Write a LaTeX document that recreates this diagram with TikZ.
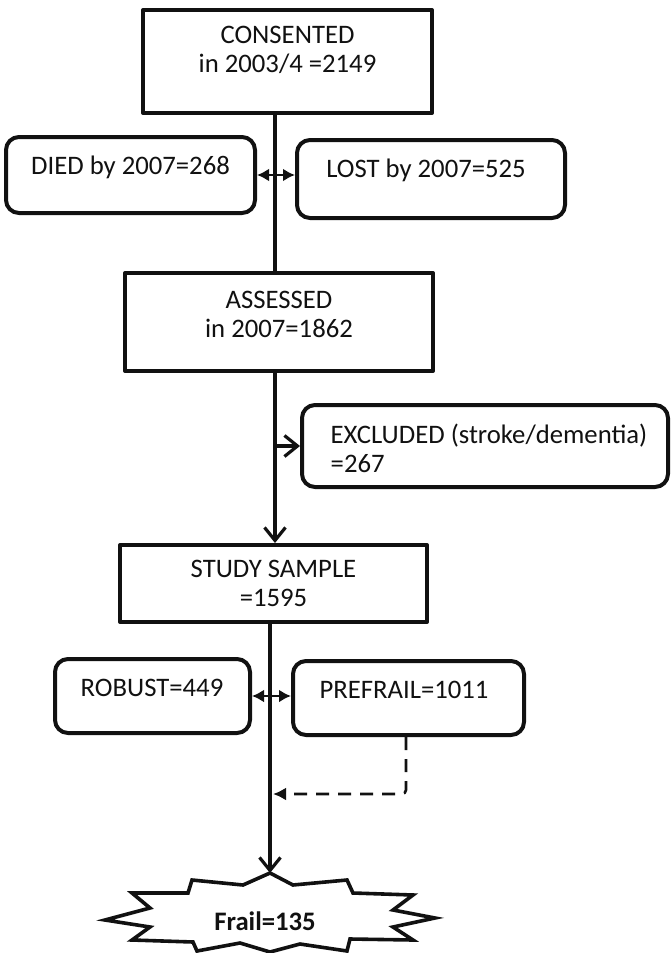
\documentclass[tikz,border=0pt]{standalone}
\usepackage{fontspec}
\setmainfont{Carlito}
\usepackage{xcolor}
\usepackage{tikz}
\usetikzlibrary{arrows.meta,positioning,calc}
\definecolor{ink}{HTML}{111111}

\begin{document}
\begin{tikzpicture}[x=1pt, y=-1pt, line join=round,
  sqbox/.style={draw=ink, line width=4pt, inner sep=0pt},
  rndbox/.style={sqbox, rounded corners=13pt},
  boxtext/.style={inner sep=0pt, align=center, text=ink,
    font=\fontsize{26.7}{29}\selectfont},
  flow/.style={draw=ink, line width=3.2pt},
  openhead/.style={-{Straight Barb[length=13pt, width=21pt]}},
  splithead/.style={{Latex[length=12pt, width=13pt]}-{Latex[length=12pt, width=13pt]}}]
  % page frame, pixel units with y going down
  \fill[white] (0,0) rectangle (670,953);
  \useasboundingbox (0,0) rectangle (670,953);
  % the spine of the flow chart
  \coordinate (spine) at (275,0);
  \coordinate (spinelow) at (270,0);
  % boxes, text set a little above the middle as in the print
  \node[sqbox, minimum width=289pt, minimum height=103pt] (consented) at (287.5,61.5) {};
  \node[boxtext] (consentedtxt) at (287.5,50) {CONSENTED\\in 2003/4 =2149};
  \node[rndbox, minimum width=249pt, minimum height=76pt] (died) at (130.5,175) {};
  \node[boxtext] (diedtxt) at (130.5,167) {DIED by 2007=268};
  \node[rndbox, minimum width=268pt, minimum height=78pt] (lost) at (431,179) {};
  \node[boxtext] (losttxt) at (426,170) {LOST by 2007=525};
  \node[sqbox, minimum width=308pt, minimum height=98pt] (assessed) at (279,322) {};
  \node[boxtext] (assessedtxt) at (279,314.5) {ASSESSED\\in 2007=1862};
  \node[rndbox, minimum width=366pt, minimum height=82pt] (excluded) at (485,446) {};
  \node[boxtext, align=left] (excludedtxt) at (489,448.5) {EXCLUDED (stroke/dementia)\\=267};
  \node[sqbox, minimum width=307pt, minimum height=77pt] (study) at (273.5,583.5) {};
  \node[boxtext] (studytxt) at (273.5,583.5) {STUDY SAMPLE\\=1595};
  \node[rndbox, minimum width=195pt, minimum height=74pt] (robust) at (152.5,696) {};
  \node[boxtext] (robusttxt) at (152,688) {ROBUST=449};
  \node[rndbox, minimum width=231pt, minimum height=74pt] (prefrail) at (408.5,698) {};
  \node[boxtext] (prefrailtxt) at (404,690) {PREFRAIL=1011};
  % the explosion shape round the last count
  \coordinate (frailc) at (270,915);
  \coordinate (frailtop) at ($(frailc)+(0,-42)$);
  \draw[ink, line width=3.6pt, line join=miter, fill=white, shift={(frailc)}]
    (0,-42) -- (23,-30) -- (77,-35) -- (83,-22) -- (143,-20) -- (123,-5)
    -- (165,3) -- (123,12) -- (143,25) -- (80,24) -- (77,36) -- (30,29)
    -- (0,37) -- (-30,28) -- (-73,36) -- (-77,27) -- (-138,25) -- (-120,12)
    -- (-165,5) -- (-120,-7) -- (-138,-22) -- (-82,-22) -- (-78,-35)
    -- (-27,-30) -- cycle;
  \node[boxtext, font=\fontsize{26.7}{29}\selectfont\bfseries] (frail) at (265,921) {Frail=135};
  % connectors
  \draw[flow] (consented.south -| spine) -- (assessed.north -| spine);
  \draw[flow, line width=2.6pt, splithead] (died.east) -- (died.east -| lost.west);
  \draw[flow, openhead] (excluded.west -| spine) -- (excluded.west);
  \draw[flow, openhead] (assessed.south -| spine) -- (study.north -| spine);
  \draw[flow, line width=2.6pt, splithead] (robust.east) -- (robust.east -| prefrail.west);
  \draw[flow, openhead] (study.south -| spinelow) -- (frailtop);
  % prefrail people who went on to frailty
  \coordinate (drop) at (406,794);
  \draw[ink, line width=2.6pt, dash pattern=on 13pt off 9pt, rounded corners=4pt,
    -{Latex[length=13pt, width=13pt]}]
    (prefrail.south -| drop) -- (drop) -- ($(drop -| spinelow)+(3,0)$);
\end{tikzpicture}
\end{document}
